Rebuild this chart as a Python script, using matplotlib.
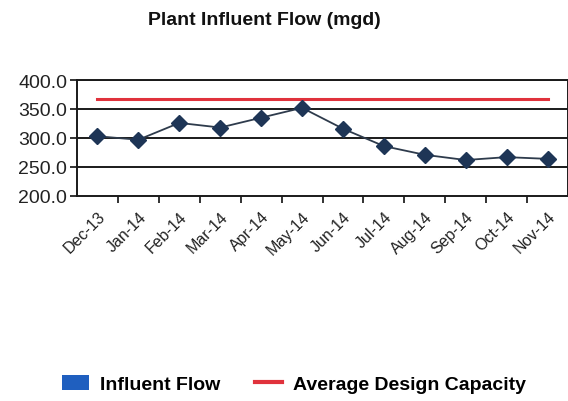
import matplotlib
matplotlib.use("Agg")
import matplotlib.pyplot as plt
from matplotlib.patches import Patch
from matplotlib.lines import Line2D

plt.rcParams['font.family'] = ['Liberation Sans', 'DejaVu Sans']

months = ['Dec-13', 'Jan-14', 'Feb-14', 'Mar-14', 'Apr-14', 'May-14',
          'Jun-14', 'Jul-14', 'Aug-14', 'Sep-14', 'Oct-14', 'Nov-14']
influent = [303, 297, 326, 318, 335, 352, 316, 286, 271, 262, 267, 264]
capacity = [368] * 12
yticks = [200, 250, 300, 350, 400]

fig = plt.figure(figsize=(5.68, 4.02), dpi=100)
ax = fig.add_axes([0.1356, 0.51, 0.8644, 0.2885])

x = list(range(len(months)))
ax.plot(x, capacity, color='#e0323c', lw=2.2, zorder=3)
ax.plot(x, influent, color='#2e3b4c', lw=1.3, marker='D', markersize=8.5,
        markerfacecolor='#1e3556', markeredgecolor='#1e3556', zorder=4)

ax.set_xlim(-0.5, 11.5)
ax.set_ylim(200, 400)
ax.set_yticks(yticks)
ax.set_yticklabels(['%.1f' % v for v in yticks], fontsize=14, color='#222222')
for v in yticks[1:]:
    ax.axhline(v, color='#1a1a1a', lw=1.4, zorder=1)

# ticks sit between categories, labels under each category
ax.set_xticks([i + 0.5 for i in x[:-1]])
ax.set_xticklabels([])
ax.set_xticks(x, minor=True)
ax.set_xticklabels(months, minor=True, rotation=45, ha='right',
                   rotation_mode='anchor', fontsize=11.5, color='#222222')
ax.tick_params(axis='x', which='minor', length=0, pad=9)
ax.tick_params(axis='x', which='major', length=5, width=1.3, direction='out', color='#222222')
ax.tick_params(axis='y', length=5, width=1.3, color='#222222', pad=2)

for s in ax.spines.values():
    s.set_color('#1a1a1a')
    s.set_linewidth(1.4)

fig.text(0.465, 0.95, 'Plant Influent Flow (mgd)', ha='center', va='center',
         fontsize=14, fontweight='bold', color='#111111')

handles = [Patch(facecolor='#1f5fbf', edgecolor='none'),
           Line2D([0], [0], color='#e0323c', lw=3)]
fig.legend(handles, ['Influent Flow', 'Average Design Capacity'],
           loc='center left', bbox_to_anchor=(0.0915, 0.042), ncol=2,
           frameon=False, prop={'size': 14, 'weight': 'bold'}, borderpad=0,
           handlelength=1.4, handleheight=0.8, columnspacing=1.8, handletextpad=0.55)

fig.savefig('out.png', dpi=100)
